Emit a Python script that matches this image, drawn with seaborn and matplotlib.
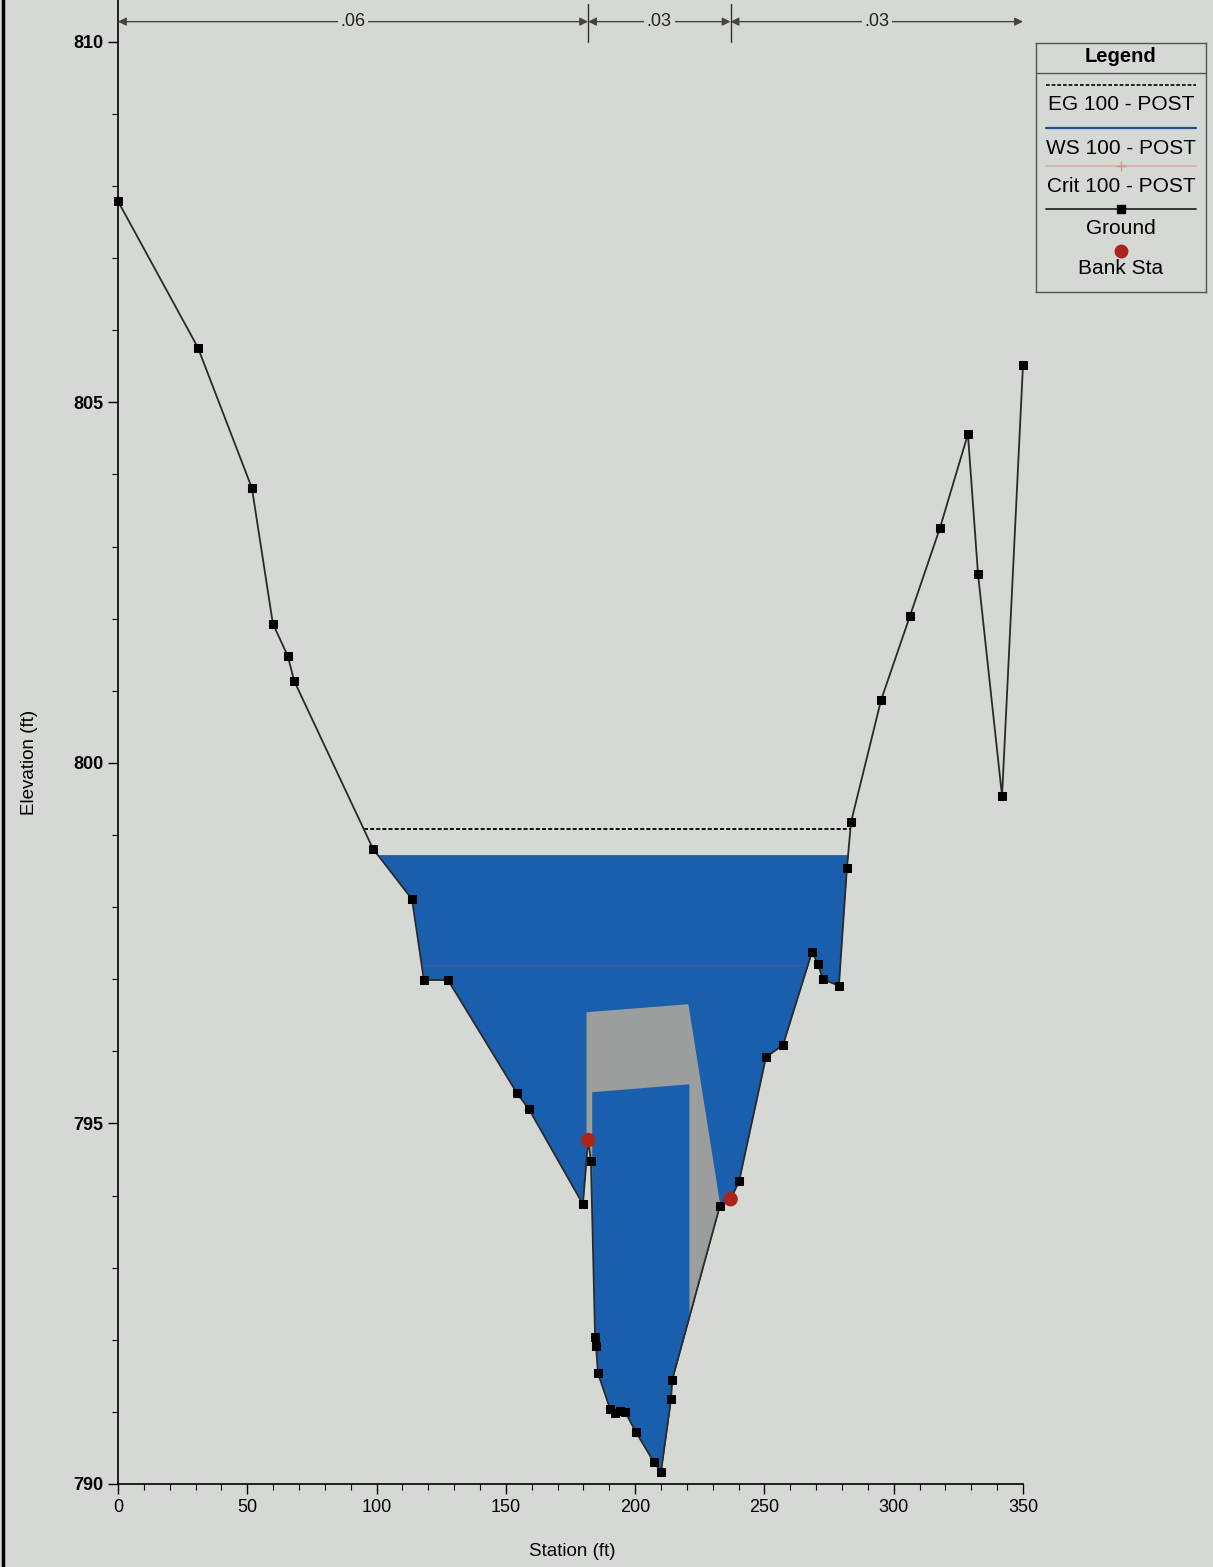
import numpy as np
import matplotlib
matplotlib.use("Agg")
import matplotlib.pyplot as plt
from matplotlib.lines import Line2D
import seaborn as sns

# --- Data ---
station = [0, 30.9, 51.8, 59.9, 65.7, 68.1, 98.6, 113.7, 118.3, 127.6,
           154.3, 158.9, 179.8, 181.8, 182.9, 184.5, 184.9, 185.6, 190.3, 192.2,
           194.1, 196.1, 200.3, 207.3, 210.0, 213.9, 214.3, 232.8, 236.9, 240.2,
           250.6, 257.2, 268.4, 270.7, 272.6, 278.8, 281.9, 283.5, 295.1, 306.3,
           317.9, 328.7, 332.6, 341.9, 350.0]
elevation = [807.79, 805.76, 803.81, 801.93, 801.48, 801.14, 798.81, 798.11, 796.99, 796.99,
             795.42, 795.20, 793.88, 794.77, 794.48, 792.04, 791.91, 791.54, 791.04, 790.98,
             791.01, 791.00, 790.72, 790.30, 790.17, 791.18, 791.44, 793.86, 793.95, 794.20,
             795.92, 796.09, 797.38, 797.21, 797.00, 796.91, 798.54, 799.18, 800.87, 802.04,
             803.26, 804.56, 802.62, 799.54, 805.52]

bank_sta = [181.8, 236.9]
bank_elev = [794.77, 793.95]

eg_elev = 799.08
ws_elev = 798.71
crit_elev = 797.20

# obstruction outline (gray) and opening (inner blue)
obstr_sta = [181.0, 220.4, 232.8]
obstr_top = [796.55, 796.66, 793.86]
open_sta = [183.2, 220.8]
open_top = [795.44, 795.55]

n_breaks = [0, 181.8, 236.9, 350]
n_values = [".06", ".03", ".03"]

# --- Style ---
BG = "#d6d8d4"
WATER = "#1a5fad"
GRAY = "#9b9e9c"
sns.set_theme(style="white", rc={"axes.facecolor": BG, "figure.facecolor": BG,
                                 "text.color": "black", "axes.labelcolor": "black",
                                 "xtick.color": "black", "ytick.color": "black"})
plt.rcParams["font.family"] = ["Liberation Sans", "DejaVu Sans"]

x = np.array(station)
z = np.array(elevation)


def crossings(level):
    """Left/right stations where the ground crosses a level, around the thalweg."""
    i0 = int(np.argmin(z))
    i = i0
    while i > 0 and z[i] < level:
        i -= 1
    left = np.interp(level, [z[i + 1], z[i]], [x[i + 1], x[i]])
    j = i0
    while j < len(z) - 1 and z[j] < level:
        j += 1
    right = np.interp(level, [z[j - 1], z[j]], [x[j - 1], x[j]])
    return left, right


def region(brk):
    x0, x1 = brk[0], brk[-1]
    xs = np.union1d(brk, x[(x > x0) & (x < x1)])
    return xs, np.interp(xs, x, z)


fig = plt.figure(figsize=(12.13, 15.67), dpi=100)
ax = fig.add_axes([118 / 1213, 83 / 1567, 905 / 1213, 1484 / 1567])

# water
fine = np.linspace(0, 350, 3501)
gz = np.interp(fine, x, z)
ax.fill_between(fine, gz, ws_elev, where=gz < ws_elev, interpolate=True,
                color=WATER, lw=0, zorder=1)

# obstruction
xs, gs = region(obstr_sta)
ax.fill_between(xs, gs, np.interp(xs, obstr_sta, obstr_top), color=GRAY, lw=0, zorder=2)
xs, gs = region(open_sta)
ax.fill_between(xs, gs, np.interp(xs, open_sta, open_top), color=WATER, lw=0, zorder=3)

# water surfaces
l, r = crossings(ws_elev)
ax.plot([l, r], [ws_elev, ws_elev], color="#1d4f91", lw=1.2, zorder=4)
l, r = crossings(crit_elev)
ax.plot([l, r], [crit_elev, crit_elev], color="#8c5a4a", lw=1.0, alpha=0.3, zorder=4)
l, r = crossings(eg_elev)
ax.plot([l, r], [eg_elev, eg_elev], color="black", lw=1.3, ls=(0, (2.2, 1.2)), zorder=4)

# ground
sns.lineplot(x=station, y=elevation, sort=False, estimator=None, ax=ax,
             color="#2a2a2a", lw=1.3, marker="s", markersize=5.5,
             markeredgecolor="black", markerfacecolor="black", zorder=5, clip_on=False)
sns.scatterplot(x=bank_sta, y=bank_elev, ax=ax, color="#aa261d", s=110,
                edgecolor="none", zorder=6)

# Manning's n bar
y_n = 810.28
for b in n_breaks[1:-1]:
    ax.plot([b, b], [810.0, 810.52], color="#333333", lw=1.0, clip_on=False, zorder=6)
for (a, b), lab in zip(zip(n_breaks[:-1], n_breaks[1:]), n_values):
    ax.annotate("", xy=(a, y_n), xytext=(b, y_n),
                arrowprops=dict(arrowstyle="<|-|>", color="#444444", lw=1.0,
                                shrinkA=0, shrinkB=0, mutation_scale=12),
                annotation_clip=False)
    ax.text((a + b) / 2, y_n, lab, ha="center", va="center", fontsize=13,
            color="#222222",
            bbox=dict(boxstyle="square,pad=0.15", fc=BG, ec="none"))

# axes
ax.set_xlim(0, 350)
ax.set_ylim(790, 810.58)
ax.set_xticks(np.arange(0, 351, 50))
ax.set_xticks(np.arange(0, 351, 10), minor=True)
ax.set_yticks(np.arange(790, 811, 5))
ax.set_yticks(np.arange(790, 811, 1), minor=True)
sns.despine(ax=ax)
for s in ["left", "bottom"]:
    ax.spines[s].set_color("black")
    ax.spines[s].set_linewidth(1.2)
ax.tick_params(which="major", direction="out", length=7, width=1, color="black",
               bottom=True, left=True)
ax.tick_params(which="minor", direction="out", length=4, width=0.8, color="black",
               bottom=True, left=True)
for t in ax.get_xticklabels():
    t.set_fontsize(13)
for t in ax.get_yticklabels():
    t.set_fontsize(13)
    t.set_fontweight("bold")
ax.set_xlabel("Station (ft)", fontsize=13.5)
ax.set_ylabel("Elevation (ft)", fontsize=13.5)
ax.xaxis.set_label_coords(0.502, -0.0398)
ax.yaxis.set_label_coords(-0.0885, 0.486)

# legend panel (HEC-RAS style: sample above text)
lg = fig.add_axes([1036 / 1213, 1 - 292 / 1567, 170 / 1213, 249 / 1567])
lg.set_xlim(0, 170)
lg.set_ylim(249, 0)
lg.set_xticks([])
lg.set_yticks([])
lg.set_facecolor(BG)
for s in lg.spines.values():
    s.set_color("#555555")
    s.set_linewidth(1.0)
lg.plot([0, 170], [30, 30], color="#555555", lw=1.0)
lg.text(85, 14, "Legend", ha="center", va="center", fontsize=14.5, fontweight="bold")
rows = [
    ("EG 100 - POST", 42, dict(color="black", lw=1.2, ls=(0, (2.2, 1.2)))),
    ("WS 100 - POST", 85, dict(color="#1d4f91", lw=1.6)),
    ("Crit 100 - POST", 123, dict(color="#d8b7a6", lw=1.4)),
    ("Ground", 166, dict(color="#2a2a2a", lw=1.3)),
]
for lab, yy, kw in rows:
    lg.plot([10, 160], [yy, yy], **kw)
    lg.text(85, yy + 20, lab, ha="center", va="center", fontsize=15)
lg.plot([85], [123], marker="+", color="#c89a86", markersize=7)
lg.plot([85], [166], marker="s", color="black", markersize=5.5)
lg.plot([85], [208], marker="o", color="#aa261d", markersize=10, markeredgecolor="none")
lg.text(85, 226, "Bank Sta", ha="center", va="center", fontsize=15)

# scan edge line on the left
fig.add_artist(Line2D([3 / 1213, 3 / 1213], [0, 1], color="black", lw=2.5))

fig.savefig("out.png", dpi=100, facecolor=BG)
